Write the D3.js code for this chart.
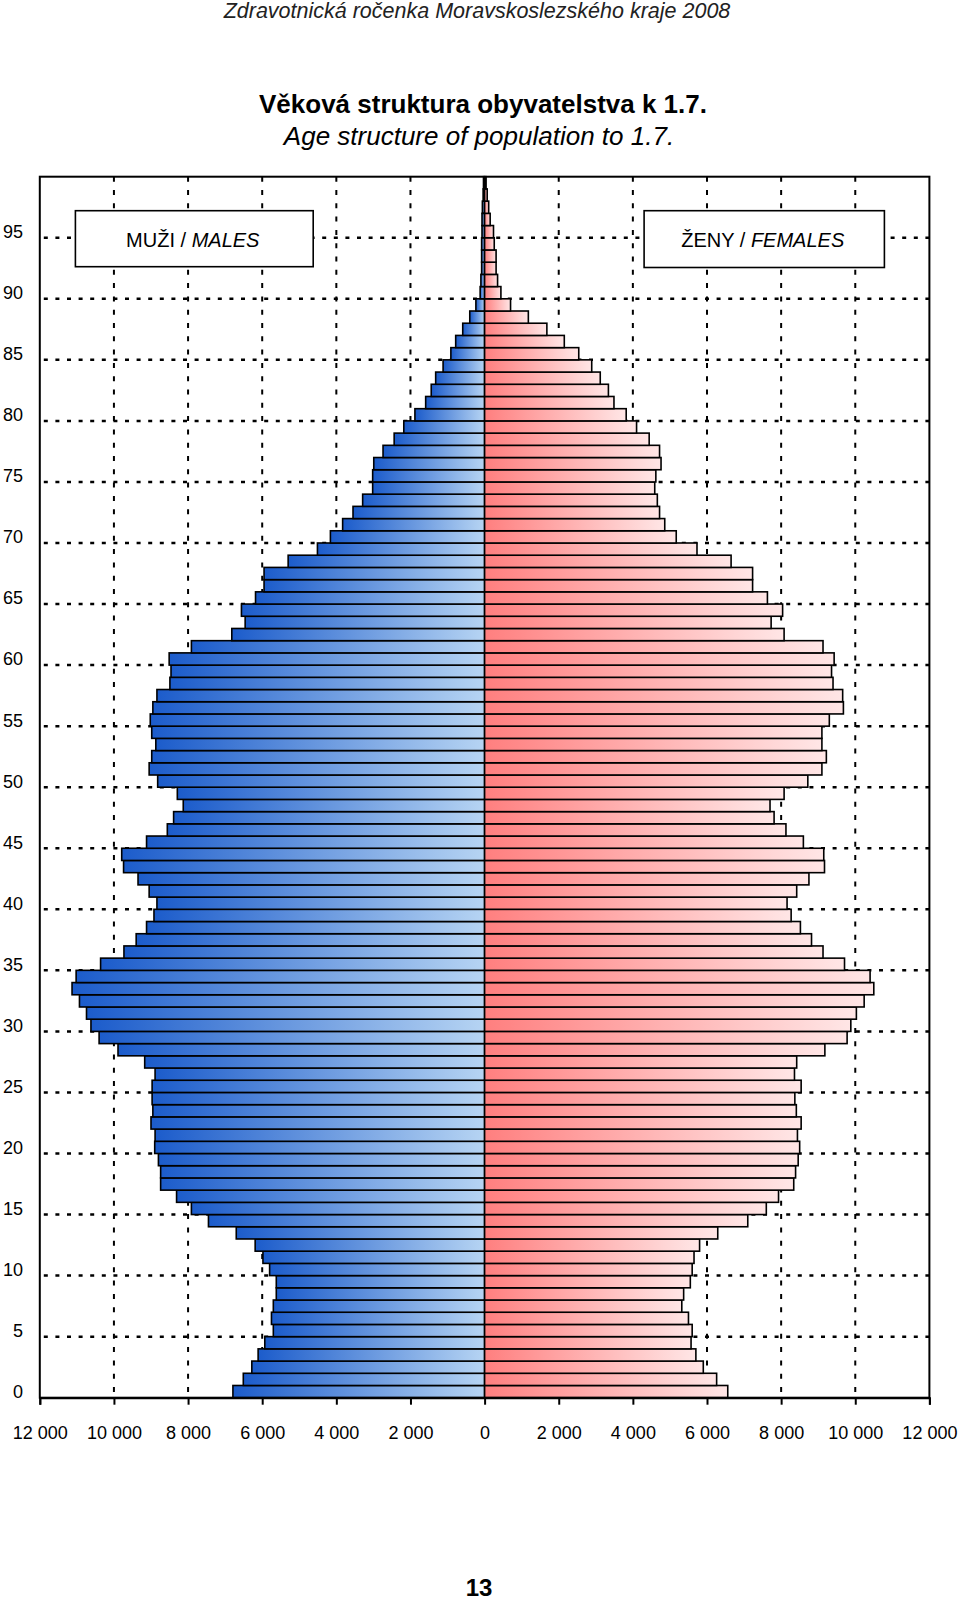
<!DOCTYPE html>
<html>
<head>
<meta charset="utf-8">
<script src="https://cdn.jsdelivr.net/npm/d3@7"></script>
<style>
html,body{margin:0;padding:0;background:#fff;}
svg{display:block;font-family:"Liberation Sans",Arial,sans-serif;}
</style>
</head>
<body>
<svg id="chart" width="960" height="1603"></svg>
<script>
// ---- data ----
const ages = d3.range(0, 100);
const males = [6790,6510,6280,6110,5930,5700,5750,5700,5620,5620,
  5800,5980,6190,6700,7450,7910,8310,8740,8740,8800,
  8900,8890,9000,8950,8970,8970,8890,9170,9890,10400,
  10620,10740,10930,11130,11020,10360,9730,9400,9120,8920,
  8840,9050,9350,9740,9790,9120,8560,8390,8130,8290,
  8820,9050,8980,8870,8980,9020,8950,8840,8490,8460,
  8510,7910,6820,6460,6560,6180,5950,5950,5300,4510,
  4160,3830,3550,3290,3020,3020,2990,2740,2440,2180,
  1880,1590,1440,1320,1120,910,780,590,400,235,
  120,100,80,80,80,70,70,60,40,30];
const females = [6560,6260,5900,5700,5570,5600,5500,5320,5370,5550,
  5600,5650,5800,6290,7100,7600,7930,8340,8390,8460,
  8500,8440,8540,8410,8370,8540,8360,8420,9180,9780,
  9880,10030,10240,10500,10400,9710,9130,8820,8520,8270,
  8160,8420,8750,9170,9150,8600,8130,7810,7700,8080,
  8720,9100,9220,9100,9100,9300,9680,9660,9400,9360,
  9430,9130,8080,7730,8040,7630,7230,7230,6650,5730,
  5170,4860,4720,4660,4590,4620,4760,4720,4440,4100,
  3820,3490,3340,3120,2890,2540,2150,1680,1180,700,
  440,350,310,310,260,240,150,110,70,40];
const xTicks = [-12000,-10000,-8000,-6000,-4000,-2000,0,2000,4000,6000,8000,10000,12000];
const yTickLabels = [0,5,10,15,20,25,30,35,40,45,50,55,60,65,70,75,80,85,90,95];
const headerText = "Zdravotnická ročenka Moravskoslezského kraje 2008";
const titleText = "Věková struktura obyvatelstva k 1.7.";
const subtitleText = "Age structure of population to 1.7.";
const pageNumber = "13";

// ---- layout ----
const L = 39.8, R = 929.4, T = 176.7, B = 1397.7;
const svg = d3.select("#chart");
const x = d3.scaleLinear().domain([-12000, 12000]).range([L, R]);
const y = d3.scaleLinear().domain([0, 100]).range([B, T]);

// gradients
const defs = svg.append("defs");
const gm = defs.append("linearGradient").attr("id","gm").attr("x1","0").attr("x2","1").attr("y1","0").attr("y2","0");
gm.append("stop").attr("offset","0").attr("stop-color","#1c5ccb");
gm.append("stop").attr("offset","1").attr("stop-color","#b6d4f3");
const gf = defs.append("linearGradient").attr("id","gf").attr("x1","0").attr("x2","1").attr("y1","0").attr("y2","0");
gf.append("stop").attr("offset","0").attr("stop-color","#ff7f7f");
gf.append("stop").attr("offset","1").attr("stop-color","#ffe6e6");

// titles
svg.append("text").attr("x",477).attr("y",18).attr("text-anchor","middle")
  .attr("font-size",21.5).attr("font-style","italic").attr("fill","#222").text(headerText);
svg.append("text").attr("x",483).attr("y",113).attr("text-anchor","middle")
  .attr("font-size",26).attr("font-weight","bold").text(titleText);
svg.append("text").attr("x",479).attr("y",145).attr("text-anchor","middle")
  .attr("font-size",26).attr("font-style","italic").text(subtitleText);

// vertical dashed gridlines
svg.append("g").selectAll("line").data(xTicks.filter(d => d !== 0 && Math.abs(d) !== 12000)).join("line")
  .attr("x1", d => x(d)).attr("x2", d => x(d)).attr("y1", T).attr("y2", B)
  .attr("stroke","#000").attr("stroke-width",2).attr("stroke-dasharray","5,8.3");

// horizontal dotted gridlines
svg.append("g").selectAll("line").data(yTickLabels.filter(d => d > 0)).join("line")
  .attr("x1", L + 4).attr("x2", R).attr("y1", d => y(d)).attr("y2", d => y(d))
  .attr("stroke","#000").attr("stroke-width",2.5).attr("stroke-dasharray","4,7.6");

// bars
const bars = svg.append("g");
bars.selectAll("rect.m").data(ages).join("rect").attr("class","m")
  .attr("x", a => x(-males[a])).attr("width", a => x(0) - x(-males[a]))
  .attr("y", a => y(a + 1)).attr("height", a => y(a) - y(a + 1))
  .attr("fill","url(#gm)").attr("stroke","#000").attr("stroke-width",1.6);
bars.selectAll("rect.f").data(ages).join("rect").attr("class","f")
  .attr("x", x(0)).attr("width", a => x(females[a]) - x(0))
  .attr("y", a => y(a + 1)).attr("height", a => y(a) - y(a + 1))
  .attr("fill","url(#gf)").attr("stroke","#000").attr("stroke-width",1.6);

// frame
svg.append("rect").attr("x",L).attr("y",T).attr("width",R-L).attr("height",B-T)
  .attr("fill","none").attr("stroke","#000").attr("stroke-width",2);

// x axis
const fmt = v => d3.format(",")(Math.abs(v)).replace(/,/g, " ");
const xAxis = d3.axisBottom(x).tickValues(xTicks).tickFormat(fmt).tickSize(7).tickPadding(22);
const gx = svg.append("g").attr("transform",`translate(0,${B})`).call(xAxis);
gx.select(".domain").attr("stroke","#000").attr("stroke-width",2);
gx.selectAll(".tick line").attr("stroke","#000").attr("stroke-width",2);
gx.selectAll(".tick text").attr("font-size",18).attr("fill","#000")
  .attr("font-family","Liberation Sans, Arial, sans-serif");

// y labels (category labels centred on bars)
svg.append("g").selectAll("text").data(yTickLabels).join("text")
  .attr("x", 23).attr("y", d => (y(d) + y(d + 1)) / 2 + 6.5)
  .attr("text-anchor","end").attr("font-size",18).text(d => d);

// legend boxes
const boxes = [
  {x0: 75.4, x1: 313.2, y0: 210.7, y1: 266.7, a: "MUŽI / ", b: "MALES"},
  {x0: 644.1, x1: 884.4, y0: 210.7, y1: 267.5, a: "ŽENY / ", b: "FEMALES"}
];
boxes.forEach(bx => {
  svg.append("rect").attr("x",bx.x0).attr("y",bx.y0).attr("width",bx.x1-bx.x0).attr("height",bx.y1-bx.y0)
    .attr("fill","#fff").attr("stroke","#000").attr("stroke-width",1.6);
  const t = svg.append("text").attr("x",(bx.x0+bx.x1)/2 - 1.5).attr("y",246.5)
    .attr("text-anchor","middle").attr("font-size",20);
  t.append("tspan").text(bx.a);
  t.append("tspan").attr("font-style","italic").text(bx.b);
});

// page number
svg.append("text").attr("x",479).attr("y",1596).attr("text-anchor","middle")
  .attr("font-size",24).attr("font-weight","bold").text(pageNumber);
</script>
</body>
</html>
